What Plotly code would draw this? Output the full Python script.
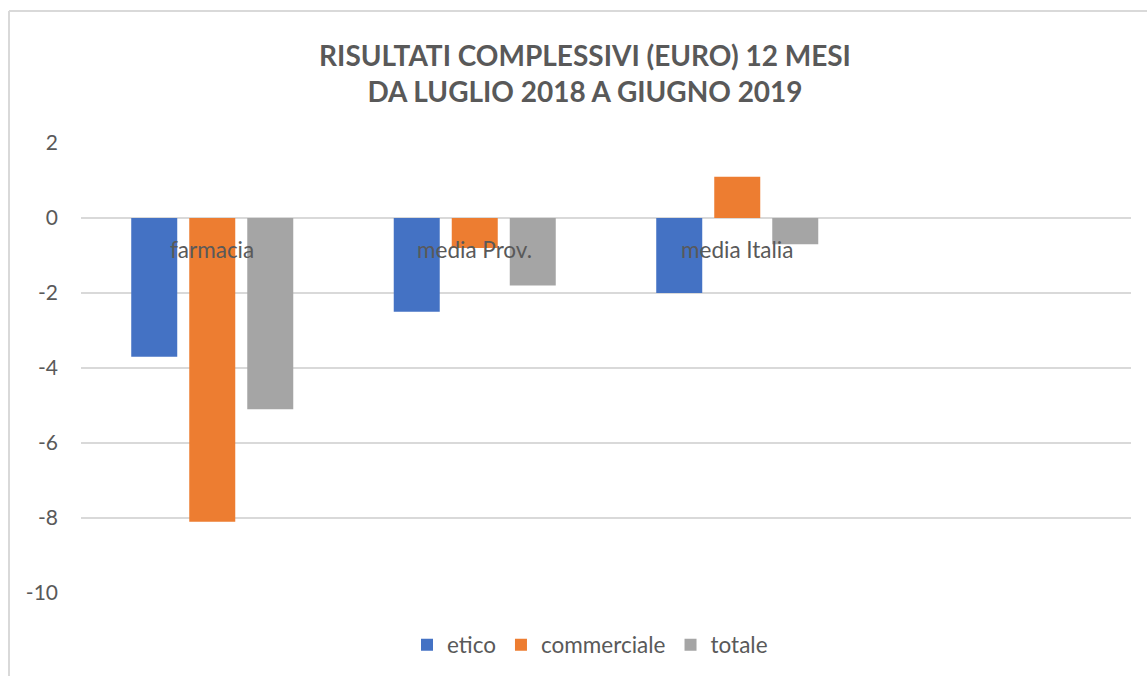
import plotly.graph_objects as go

categories = ["farmacia", "media Prov.", "media Italia"]
etico = [-3.7, -2.5, -2.0]
commerciale = [-8.1, -0.8, 1.1]
totale = [-5.1, -1.8, -0.7]
series_names = ["etico", "commerciale", "totale"]
colors = ["#4472C4", "#ED7D31", "#A5A5A5"]
y_ticks = [2, 0, -2, -4, -6, -8, -10]

FONT = "Lato"
GREY = "#595959"

W, H = 1147, 676
L, R, T, B = 81, 16, 143, 83

fig = go.Figure()
for name, vals, col in zip(series_names, [etico, commerciale, totale], colors):
    fig.add_trace(go.Bar(
        x=categories, y=vals, name=name,
        marker=dict(color=col, line=dict(width=0)),
    ))

# category labels at the zero line
for c in categories:
    fig.add_annotation(x=c, y=0, xref="x", yref="y", text=c, showarrow=False,
                       yanchor="middle", yshift=-31,
                       font=dict(family=FONT, size=22.5, color=GREY))

pw = W - L - R
ph = H - T - B
def px(x):
    return (x - L) / pw
def py(y):
    return (H - B - y) / ph

# chart frame (top and left border)
fig.add_shape(type="line", xref="paper", yref="paper", x0=px(9), x1=px(W + 5),
              y0=py(11), y1=py(11), line=dict(color="#D9D9D9", width=2))
fig.add_shape(type="line", xref="paper", yref="paper", x0=px(9), x1=px(9),
              y0=py(11), y1=py(H + 5), line=dict(color="#D9D9D9", width=2))

fig.update_layout(
    width=W, height=H,
    margin=dict(l=L, r=R, t=T, b=B, autoexpand=False),
    paper_bgcolor="white", plot_bgcolor="white",
    barmode="group", bargap=0.337, bargroupgap=0.207,
    title=dict(text="<b>RISULTATI COMPLESSIVI (EURO) 12 MESI<br>DA LUGLIO 2018 A GIUGNO 2019</b>",
               xref="container", x=585 / W, xanchor="center",
               yref="container", y=1 - 66 / H, yanchor="middle",
               font=dict(family=FONT, size=28, color=GREY)),
    xaxis=dict(type="category", categoryorder="array", categoryarray=categories,
               range=[-0.5, 3.5], showticklabels=False, showgrid=False,
               zeroline=False, showline=False, ticks=""),
    yaxis=dict(range=[-10, 2], tickvals=y_ticks, ticktext=[str(v) for v in y_ticks],
               showgrid=True, gridcolor="#D9D9D9", gridwidth=2,
               zeroline=False, showline=False, ticks="", ticklabelstandoff=22,
               tickfont=dict(family=FONT, size=21, color=GREY)),
    legend=dict(orientation="h", x=px(590), xanchor="center", y=py(645), yanchor="middle",
                font=dict(family=FONT, size=22.5, color=GREY),
                itemwidth=30, tracegroupgap=0, itemsizing="constant"),
    showlegend=True,
)

fig.write_html("out.html")
